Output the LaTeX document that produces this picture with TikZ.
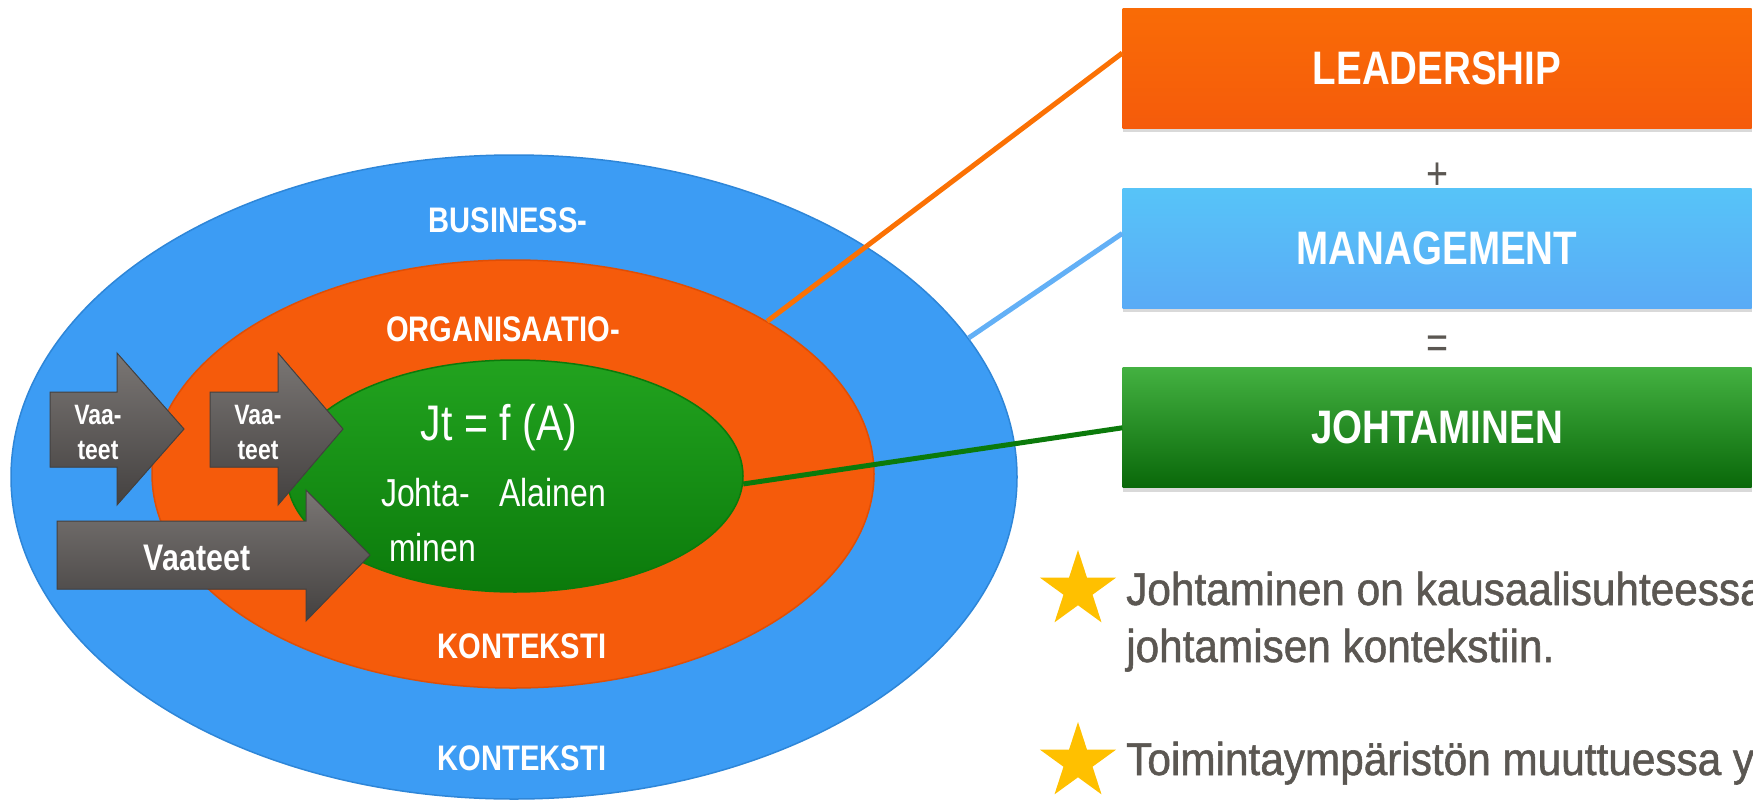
\documentclass[tikz,border=0pt]{standalone}
\usepackage{fontspec}
\setmainfont{Liberation Sans}[FakeStretch=0.82]
\newfontfamily\pointfont{Liberation Sans}[FakeStretch=0.92,FakeBold=1.2]
\usetikzlibrary{positioning}
\usetikzlibrary{shapes.geometric}
\usetikzlibrary{shadows}
\definecolor{bizblue}{HTML}{3C9CF4}
\definecolor{bizrim}{HTML}{2E86D8}
\definecolor{orgorange}{HTML}{F55B0B}
\definecolor{orgrim}{HTML}{E04E05}
\definecolor{leadgreen}{HTML}{148F13}
\definecolor{leadgreenlight}{HTML}{22A31F}
\definecolor{leadgreendark}{HTML}{0B7A0B}
\definecolor{textgray}{HTML}{5B5752}
\definecolor{stargold}{HTML}{FFC000}
\definecolor{arrowlight}{HTML}{7A7674}
\definecolor{arrowmid}{HTML}{5A5654}
\definecolor{arrowdark}{HTML}{444140}
\tikzset{
  zone/.style={
    ellipse,
    inner sep=0,
    line width=1.5pt,
  },
  business/.style={
    zone,
    fill=bizblue,
    draw=bizrim,
    minimum width=1006pt,
    minimum height=644pt,
  },
  organisation/.style={
    zone,
    fill=orgorange,
    draw=orgrim,
    minimum width=722pt,
    minimum height=428pt,
  },
  leading/.style={
    zone,
    top color=leadgreenlight,
    bottom color=leadgreendark,
    draw=leadgreendark,
    minimum width=456pt,
    minimum height=232pt,
  },
  zonelabel/.style={
    white,
    inner sep=0,
    font=\bfseries\fontsize{35.5}{40}\selectfont,
  },
  inner/.style={
    white,
    inner sep=0,
    font=\fontsize{39}{55}\selectfont,
  },
  sumbox/.style={
    rectangle,
    inner sep=0,
    minimum width=629pt,
    minimum height=120pt,
    white,
    font=\bfseries\fontsize{47}{56}\selectfont,
    drop shadow={shadow xshift=0pt,shadow yshift=-4pt,opacity=0.3},
  },
  leadbox/.style={
    sumbox,
    top color=orange!45!orgorange,
    middle color=orgorange!90!orange,
    bottom color=orgorange,
  },
  mgmtbox/.style={
    sumbox,
    top color=cyan!25!bizblue!80!white,
    middle color=bizblue!80!white,
    bottom color=bizblue!85!white,
  },
  johtbox/.style={
    sumbox,
    top color=leadgreenlight!85!white,
    middle color=leadgreendark,
    bottom color=leadgreendark!85!black,
  },
  sign/.style={
    textgray,
    inner sep=0,
    font=\fontsize{46}{50}\selectfont,
  },
  link/.style={
    line width=5pt,
  },
  vaade/.style={
    top color=arrowlight,
    middle color=arrowmid,
    bottom color=arrowdark,
    draw=arrowdark,
    line width=1pt,
  },
  vaadelabel/.style={
    white,
    inner sep=0,
    align=center,
  },
  bulletstar/.style={
    star,
    star points=5,
    star point ratio=2.618,
    fill=stargold,
    inner sep=0,
    minimum size=80pt,
  },
  bullettext/.style={
    textgray,
    inner sep=0,
    anchor=base west,
    font=\pointfont\fontsize{46}{57}\selectfont,
  },
}

\begin{document}
\begin{tikzpicture}[x=1pt,y=-1pt]
  \useasboundingbox (0,0) rectangle (1753,801);
  \clip (0,0) rectangle (1753,801);

  % the three boxes on the right
  \node (lead) [leadbox] at (1437,68) {LEADERSHIP};
  \node (mgmt) [mgmtbox,below=60pt of lead] {MANAGEMENT};
  \node (joht) [johtbox,below=59pt of mgmt] {JOHTAMINEN};
  \node (plus)   [sign,above=-1pt of mgmt] {+};
  \node (equals) [sign,above=9pt of joht]  {=};

  % nested contexts
  \node (biz) [business] at (514,477) {};
  \draw [link,bizblue!80!white] ([yshift=15pt]mgmt.west) -- (biz.17);
  \node (org) [organisation] at (513,474) {};
  \draw [link,orange!60!orgorange] ([yshift=15pt]lead.west) -- (org.31);
  \node (jt) [leading] at (515,476) {};
  \draw [link,leadgreendark] (joht.west) -- (jt.-2);

  \node (biz label)  [zonelabel] at (508,220) {BUSINESS-};
  \node (org label)  [zonelabel] at (503,329) {ORGANISAATIO-};
  \node (org ctx)    [zonelabel] at (522,646) {KONTEKSTI};
  \node (biz ctx)    [zonelabel] at (522,758) {KONTEKSTI};

  \node (formula) [inner,anchor=base,font=\fontsize{50}{56}\selectfont] at (499,440) {Jt = f (A)};
  \node (johta)   [inner,anchor=base west] at (381,506) {Johta-};
  \node (alainen) [inner,base right=29pt of johta] {Alainen};
  \node (minen)   [inner,anchor=base west] at (389,561) {minen};

  % demands pushing in
  \filldraw [vaade] (50,392) -- (117,392) -- (117,353) -- (184,429)
    -- (117,505) -- (117,467) -- (50,467) -- cycle;
  \filldraw [vaade] (210,392) -- (278,392) -- (278,353) -- (343,429)
    -- (278,505) -- (278,467) -- (210,467) -- cycle;
  \filldraw [vaade] (57,521) -- (306,521) -- (306,490) -- (370,555)
    -- (306,621) -- (306,589) -- (57,589) -- cycle;
  \node (vaade1) [vaadelabel,font=\bfseries\fontsize{28}{35}\selectfont] at (98,432) {Vaa-\\teet};
  \node (vaade2) [vaadelabel,font=\bfseries\fontsize{28}{35}\selectfont] at (258,432) {Vaa-\\teet};
  \node (vaade3) [vaadelabel,font=\bfseries\fontsize{37}{40}\selectfont] at (197,558) {Vaateet};

  % bullets
  \node (star1) [bulletstar] at (1078,590) {};
  \node (star2) [bulletstar] at (1078,762) {};
  \node (point1a) [bullettext] at (1126,605) {Johtaminen on kausaalisuhteessa};
  \node (point1b) [bullettext] at (1126,662) {johtamisen kontekstiin.};
  \node (point2a) [bullettext] at (1126,775) {Toimintaympäristön muuttuessa y};
\end{tikzpicture}
\end{document}
